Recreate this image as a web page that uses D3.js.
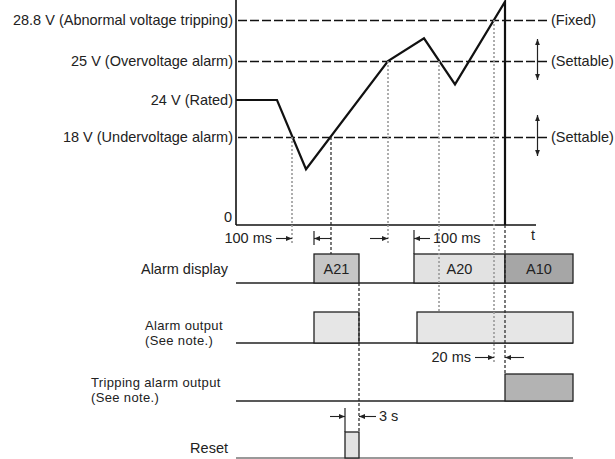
<!DOCTYPE html>
<html><head><meta charset="utf-8">
<script src="https://cdn.jsdelivr.net/npm/d3@7"></script>
<style>
body{margin:0;background:#fff;}
svg{display:block;font-family:"Liberation Sans",Arial,sans-serif;}
</style></head><body>
<svg id="c" width="615" height="459"></svg>
<script>
// ---- data ----
const levelValues = [28.8, 25, 24, 18, 0];
const levelLabels = ["28.8 V (Abnormal voltage tripping)", "25 V (Overvoltage alarm)", "24 V (Rated)", "18 V (Undervoltage alarm)", "0"];
const thresholdValues = [28.8, 25, 18];
const thresholdNotes = ["(Fixed)", "(Settable)", "(Settable)"];
const settableValues = [25, 18];
const voltageTime = [0, 41, 70, 152, 188, 219, 269, 269];
const voltageValue = [24, 24, 11.4, 25, 27.1, 24.4, 30.5, 0];
const crossTime = [56, 95, 152, 203, 258];
const crossValue = [18, 18, 25, 25, 28.8];
const displayCodes = ["A21", "A20", "A10"];
const displayStart = [78, 178, 269];
const displayEnd = [123, 269, 337];
const alarmOutStart = [78, 181];
const alarmOutEnd = [123, 337];
const tripStart = [269];
const tripEnd = [337];
const resetStart = [109];
const resetEnd = [123];
const rowLabels = [["Alarm display"], ["Alarm output", "(See note.)"], ["Tripping alarm output", "(See note.)"], ["Reset"]];
const delayLabels = ["100 ms", "100 ms", "20 ms", "3 s"];
const timeEnd = 300;
const axisLabel = "t";

// ---- scales ----
const x = d3.scaleLinear().domain([0, timeEnd]).range([236, 536]);
const y = d3.scaleLinear().domain([0, 18, 24, 25, 28.8]).range([225, 137, 100, 61, 20]);

const svg = d3.select("#c");
const FS = 14.5, TXT = "#222";

// arrow marker
const defs = svg.append("defs");
defs.append("marker").attr("id", "ah").attr("viewBox", "0 0 10 10")
  .attr("refX", 10).attr("refY", 5).attr("markerWidth", 7).attr("markerHeight", 6)
  .attr("markerUnits", "userSpaceOnUse").attr("orient", "auto-start-reverse")
  .append("path").attr("d", "M0,1 L10,5 L0,9 Z").attr("fill", "#222");

// ---- threshold lines ----
svg.selectAll("line.th").data(thresholdValues).join("line")
  .attr("x1", 238).attr("x2", 548)
  .attr("y1", d => Math.round(y(d)) + 0.5).attr("y2", d => Math.round(y(d)) + 0.5)
  .attr("stroke", "#111").attr("stroke-width", 1.3).attr("stroke-dasharray", "9,3");
svg.selectAll("text.note").data(thresholdValues).join("text")
  .attr("x", 551).attr("y", d => y(d)).attr("dy", "0.35em")
  .attr("font-size", FS).attr("fill", TXT)
  .text((d, i) => thresholdNotes[i]);
// settable arrows
svg.selectAll("line.set").data(settableValues).join("line")
  .attr("x1", 537.5).attr("x2", 537.5)
  .attr("y1", d => y(d) - 22).attr("y2", d => y(d) + 19)
  .attr("stroke", "#222").attr("stroke-width", 1.2)
  .attr("marker-start", "url(#ah)").attr("marker-end", "url(#ah)");

// ---- axes ----
svg.append("line").attr("x1", x(0)).attr("x2", x(0)).attr("y1", 0).attr("y2", y(0))
  .attr("stroke", "#111").attr("stroke-width", 1.6);
svg.append("line").attr("x1", x(0)).attr("x2", x(timeEnd)).attr("y1", y(0)).attr("y2", y(0))
  .attr("stroke", "#111").attr("stroke-width", 1.6);
svg.append("text").attr("x", x(timeEnd) - 3).attr("y", y(0) + 10).attr("dy", "0.35em")
  .attr("text-anchor", "middle").attr("font-size", FS).attr("fill", TXT).text(axisLabel);

svg.selectAll("text.lvl").data(levelValues).join("text")
  .attr("x", d => d === 0 ? 232 : 233)
  .attr("y", d => d === 0 ? y(d) - 8 : y(d)).attr("dy", "0.35em")
  .attr("text-anchor", "end").attr("font-size", FS).attr("fill", TXT)
  .text((d, i) => levelLabels[i]);

// ---- voltage curve ----
const line = d3.line().x(i => x(voltageTime[i])).y(i => y(voltageValue[i]));
svg.append("path").attr("d", line(d3.range(voltageTime.length)))
  .attr("fill", "none").attr("stroke", "#111").attr("stroke-width", 2.2)
  .attr("stroke-linejoin", "miter");

// ---- timing rows ----
const rowBase = [283, 343, 401, 458];
const rowH = [29, 31, 27, 26];
const rowX1 = x(0), rowX2 = x(337);
rowBase.forEach((b, r) => {
  svg.append("line").attr("x1", rowX1).attr("x2", rowX2).attr("y1", b).attr("y2", b)
    .attr("stroke", r === 3 ? "#777" : "#222").attr("stroke-width", 1.4);
});
const rowLabelX = [228, 145, 91, 228];
const rowLabelAnchor = ["end", "start", "start", "end"];
const rowLabelY = [269, 325, 382, 448];
rowLabels.forEach((lines, r) => {
  const two = lines.length > 1;
  lines.forEach((s, k) => {
    svg.append("text").attr("x", rowLabelX[r]).attr("y", rowLabelY[r] + k * 15).attr("dy", "0.35em")
      .attr("text-anchor", rowLabelAnchor[r]).attr("font-size", two ? 13 : FS)
      .attr("letter-spacing", two ? 0.35 : 0).attr("fill", TXT).text(s);
  });
});

function boxes(starts, ends, r, fills) {
  starts.forEach((s, i) => {
    svg.append("rect").attr("x", x(s)).attr("y", rowBase[r] - rowH[r])
      .attr("width", x(ends[i]) - x(s)).attr("height", rowH[r])
      .attr("fill", fills[i]).attr("stroke", "#222").attr("stroke-width", 1.3);
  });
}
boxes(displayStart, displayEnd, 0, ["#c6c6c6", "#e2e2e2", "#a6a6a6"]);
boxes(alarmOutStart, alarmOutEnd, 1, ["#e6e6e6", "#e6e6e6"]);
boxes(tripStart, tripEnd, 2, ["#b3b3b3"]);
boxes(resetStart, resetEnd, 3, ["#e2e2e2"]);
displayCodes.forEach((c, i) => {
  svg.append("text").attr("x", (x(displayStart[i]) + x(displayEnd[i])) / 2)
    .attr("y", rowBase[0] - rowH[0] / 2).attr("dy", "0.35em").attr("text-anchor", "middle")
    .attr("font-size", FS).attr("fill", TXT).text(c);
});

// ---- guide lines ----
const crossEndY = [245, 254, 245, 312, 362];
const crossDark = [false, true, false, false, false];
crossTime.forEach((t, i) => {
  svg.append("line").attr("x1", x(t)).attr("x2", x(t))
    .attr("y1", y(crossValue[i])).attr("y2", crossEndY[i])
    .attr("stroke", crossDark[i] ? "#222" : "#999").attr("stroke-width", crossDark[i] ? 1.2 : 1.6)
    .attr("stroke-dasharray", crossDark[i] ? "3,2" : "2,2");
});
// reset edge and trip edge dashed
svg.append("line").attr("x1", x(displayEnd[0])).attr("x2", x(displayEnd[0]))
  .attr("y1", rowBase[0]).attr("y2", rowBase[3] - rowH[3])
  .attr("stroke", "#222").attr("stroke-width", 1.2).attr("stroke-dasharray", "3,2");
svg.append("line").attr("x1", x(tripStart[0])).attr("x2", x(tripStart[0]))
  .attr("y1", y(0)).attr("y2", rowBase[2] - rowH[2])
  .attr("stroke", "#222").attr("stroke-width", 1.2).attr("stroke-dasharray", "3,2");

// ---- dimension arrows ----
function dim(yy, aFrom, aTo, bFrom, bTo, ticks) {
  svg.append("line").attr("x1", aFrom).attr("x2", aTo).attr("y1", yy).attr("y2", yy)
    .attr("stroke", "#222").attr("stroke-width", 1.1).attr("marker-end", "url(#ah)");
  svg.append("line").attr("x1", bFrom).attr("x2", bTo).attr("y1", yy).attr("y2", yy)
    .attr("stroke", "#222").attr("stroke-width", 1.1).attr("marker-end", "url(#ah)");
  ticks.forEach(tk => svg.append("line").attr("x1", tk[0]).attr("x2", tk[0]).attr("y1", tk[1]).attr("y2", tk[2])
    .attr("stroke", "#222").attr("stroke-width", 1.2));
}
dim(238.5, 276, x(crossTime[0]), x(crossTime[1]), x(displayStart[0]), [[x(displayStart[0]), 231, 245]]);
dim(238.5, 370, x(crossTime[2]), 430, x(displayStart[1]), [[x(displayStart[1]), 230, rowBase[0] - rowH[0]]]);
dim(357.5, 475, x(crossTime[4]), 524, x(tripStart[0]), []);
dim(416.5, 330, x(resetStart[0]), 376, x(resetEnd[0]), [[x(resetStart[0]), 408, rowBase[3] - rowH[3]]]);
const dimTextX = [272, 433, 471, 379];
const dimTextY = [238, 238, 357, 416];
const dimAnchor = ["end", "start", "end", "start"];
delayLabels.forEach((s, i) => {
  svg.append("text").attr("x", dimTextX[i]).attr("y", dimTextY[i]).attr("dy", "0.35em")
    .attr("text-anchor", dimAnchor[i]).attr("font-size", FS).attr("fill", TXT).text(s);
});
</script>
</body></html>
